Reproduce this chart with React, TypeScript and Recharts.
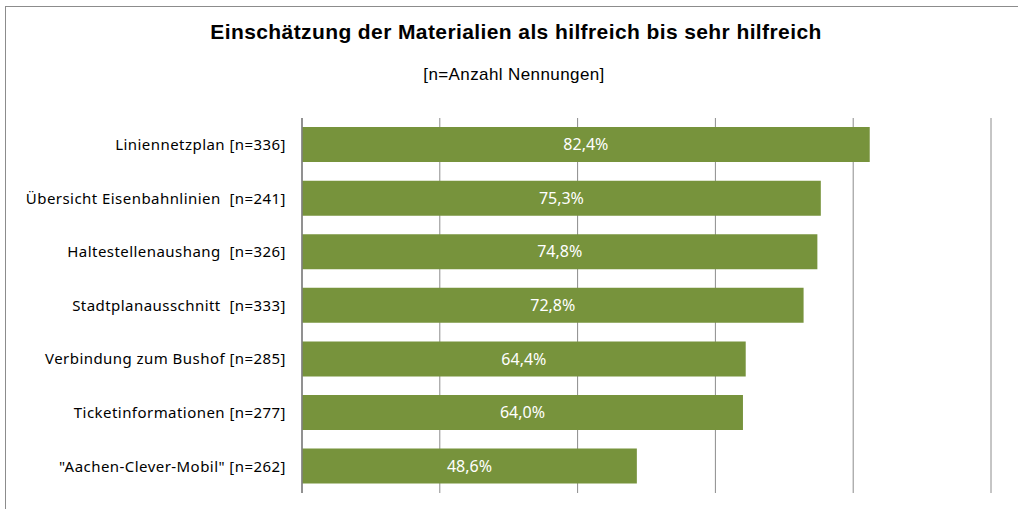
import React from 'react'
import { BarChart, Bar, XAxis, YAxis, CartesianGrid, LabelList } from 'recharts'

const categories = [
  'Liniennetzplan [n=336]',
  'Übersicht Eisenbahnlinien\u00a0 [n=241]',
  'Haltestellenaushang\u00a0 [n=326]',
  'Stadtplanausschnitt\u00a0 [n=333]',
  'Verbindung zum Bushof [n=285]',
  'Ticketinformationen [n=277]',
  '"Aachen-Clever-Mobil" [n=262]',
]
const shares = [82.4, 75.3, 74.8, 72.8, 64.4, 64.0, 48.6]
const xTicks = [0, 20, 40, 60, 80, 100]

const data = categories.map((name, i) => ({ name, value: shares[i] }))

const fmt = (v: number) => `${v.toFixed(1).replace('.', ',')}%`

export default function App() {
  return (
    <div style={{ position: 'absolute', left: 0, top: 0, width: 1018, height: 509, background: '#fff', overflow: 'hidden' }}>
      <div
        style={{
          position: 'absolute',
          left: 5,
          top: 6,
          width: 1030,
          height: 520,
          border: '1px solid #8c8c8c',
        }}
      />
      <div
        style={{
          position: 'absolute',
          left: 0,
          width: 1032,
          top: 20,
          textAlign: 'center',
          fontFamily: '"Liberation Sans", Arial, sans-serif',
          fontWeight: 'bold',
          fontSize: 21,
          letterSpacing: 0.4,
          color: '#000',
        }}
      >
        Einschätzung der Materialien als hilfreich bis sehr hilfreich
      </div>
      <div
        style={{
          position: 'absolute',
          left: 0,
          width: 1028,
          top: 65,
          textAlign: 'center',
          fontFamily: '"Liberation Sans", Arial, sans-serif',
          fontSize: 17,
          letterSpacing: 0.4,
          color: '#000',
        }}
      >
        [n=Anzahl Nennungen]
      </div>
      <div style={{ position: 'absolute', left: 0, top: 0 }}>
        <BarChart
          width={1018}
          height={509}
          data={data}
          layout="vertical"
          margin={{ top: 118, right: 27, bottom: 16, left: 0 }}
          barCategoryGap="17%"
        >
          <CartesianGrid horizontal={false} stroke="#8c8c8c" strokeWidth={1} />
          <XAxis
            type="number"
            domain={[0, 100]}
            ticks={xTicks}
            tickFormatter={() => ''}
            axisLine={false}
            tickLine={false}
            height={0}
          />
          <YAxis
            type="category"
            dataKey="name"
            width={302}
            tickLine={false}
            axisLine={{ stroke: '#7f7f7f', strokeWidth: 1.5 }}
            tickMargin={10}
            tick={{ fill: '#000', fontSize: 15, letterSpacing: 0.45, fontFamily: '"Noto Sans", sans-serif' }}
            interval={0}
          />
          <Bar dataKey="value" fill="#77933c" isAnimationActive={false}>
            <LabelList
              dataKey="value"
              position="center"
              formatter={(v: number) => fmt(v)}
              fill="#fff"
              style={{ fontSize: 16, fontFamily: '"Noto Sans", sans-serif' }}
            />
          </Bar>
        </BarChart>
      </div>
    </div>
  )
}
